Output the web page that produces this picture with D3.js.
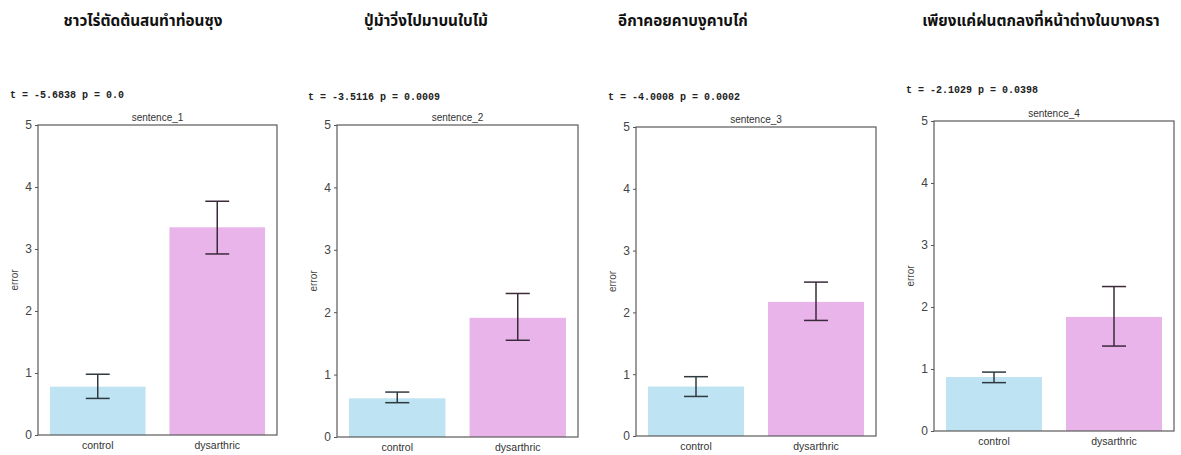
<!DOCTYPE html>
<html>
<head>
<meta charset="utf-8">
<script src="https://cdn.jsdelivr.net/npm/d3@7/dist/d3.min.js"></script>
<style>
  html, body { margin: 0; padding: 0; background: #fff; }
  svg { display: block; }
</style>
</head>
<body>
<svg id="chart" width="1181" height="455"></svg>
<script>
// Mean error per sentence, control vs dysarthric speakers, with 95% CI
const titles = ["ชาวไร่ตัดต้นสนทำท่อนซุง", "ปู่ม้าวิ่งไปมาบนใบไม้", "อีกาคอยคาบงูคาบไก่", "เพียงแค่ฝนตกลงที่หน้าต่างในบางครา"];
const sentences = ["sentence_1", "sentence_2", "sentence_3", "sentence_4"];
const stats = ["t = -5.6838 p = 0.0", "t = -3.5116 p = 0.0009", "t = -4.0008 p = 0.0002", "t = -2.1029 p = 0.0398"];
const groups = ["control", "dysarthric"];
const controlMean = [0.78, 0.62, 0.80, 0.87];
const controlLow  = [0.59, 0.55, 0.64, 0.78];
const controlHigh = [0.98, 0.72, 0.96, 0.95];
const dysMean = [3.35, 1.91, 2.17, 1.84];
const dysLow  = [2.92, 1.55, 1.87, 1.37];
const dysHigh = [3.77, 2.30, 2.49, 2.33];
const yTicks = [0, 1, 2, 3, 4, 5];

// panel frames (plot area boxes)
const frames = [
  { x0: 38,  y0: 125, x1: 277,  y1: 435, tx: 10,  ty: 98, cx: 143 },
  { x0: 337, y0: 125, x1: 578,  y1: 437, tx: 308, ty: 100, cx: 426 },
  { x0: 636, y0: 127, x1: 876,  y1: 436, tx: 608, ty: 100, cx: 683 },
  { x0: 934, y0: 121, x1: 1174, y1: 431, tx: 906, ty: 93, cx: 1041 }
];
const fills = { control: "#bee3f2", dysarthric: "#e9b4e9" };

const svg = d3.select("#chart");
const sans = "'Liberation Sans', Arial, sans-serif";

frames.forEach((f, i) => {
  const w = f.x1 - f.x0, h = f.y1 - f.y0;
  const rows = [
    { g: "control", m: controlMean[i], lo: controlLow[i], hi: controlHigh[i] },
    { g: "dysarthric", m: dysMean[i], lo: dysLow[i], hi: dysHigh[i] }
  ];

  // main Thai sentence heading
  svg.append("text")
    .attr("x", f.cx).attr("y", 26)
    .attr("text-anchor", "middle")
    .attr("font-family", "'Noto Sans Thai', 'Noto Sans', Tahoma, sans-serif")
    .attr("font-weight", "bold")
    .attr("font-size", 15.3)
    .attr("fill", "#111")
    .text(titles[i]);

  // t-test result line
  svg.append("text")
    .attr("x", f.tx).attr("y", f.ty)
    .attr("font-family", "'Liberation Mono', 'Courier New', monospace")
    .attr("font-weight", "bold")
    .attr("font-size", 10)
    .attr("fill", "#222")
    .text(stats[i]);

  const g = svg.append("g").attr("transform", `translate(${f.x0},${f.y0})`);
  const x = d3.scaleBand().domain(groups).range([0, w]).paddingInner(0.2).paddingOuter(0.1);
  const y = d3.scaleLinear().domain([0, 5]).range([h, 0]);
  const cap = x.step() * 0.1;

  // bars
  g.selectAll("rect.bar").data(rows).join("rect")
    .attr("class", "bar")
    .attr("x", d => x(d.g))
    .attr("width", x.bandwidth())
    .attr("y", d => y(d.m))
    .attr("height", d => y(0) - y(d.m))
    .attr("fill", d => fills[d.g]);

  // confidence interval whiskers
  const eb = g.selectAll("g.err").data(rows).join("g").attr("class", "err")
    .attr("stroke", d => d.g === "dysarthric" ? "#3a2a3a" : "#2e3a40")
    .attr("stroke-width", 1.5);
  eb.append("line")
    .attr("x1", d => x(d.g) + x.bandwidth() / 2).attr("x2", d => x(d.g) + x.bandwidth() / 2)
    .attr("y1", d => y(d.lo)).attr("y2", d => y(d.hi));
  eb.append("line")
    .attr("x1", d => x(d.g) + x.bandwidth() / 2 - cap).attr("x2", d => x(d.g) + x.bandwidth() / 2 + cap)
    .attr("y1", d => y(d.lo)).attr("y2", d => y(d.lo));
  eb.append("line")
    .attr("x1", d => x(d.g) + x.bandwidth() / 2 - cap).attr("x2", d => x(d.g) + x.bandwidth() / 2 + cap)
    .attr("y1", d => y(d.hi)).attr("y2", d => y(d.hi));

  // y axis
  const ya = g.append("g")
    .call(d3.axisLeft(y).tickValues(yTicks).tickFormat(d3.format("d")).tickSize(3).tickPadding(3));
  ya.select(".domain").remove();
  ya.selectAll("line").attr("stroke", "#555");
  ya.selectAll("text").attr("font-family", sans).attr("font-size", 12).attr("fill", "#444");

  // x axis labels
  const xa = g.append("g").attr("transform", `translate(0,${h})`)
    .call(d3.axisBottom(x).tickSize(0).tickPadding(7));
  xa.select(".domain").remove();
  xa.selectAll("text").attr("font-family", sans).attr("font-size", 10.5).attr("fill", "#333");

  // frame
  g.append("rect")
    .attr("x", 0).attr("y", 0).attr("width", w).attr("height", h)
    .attr("fill", "none").attr("stroke", "#5a5a5a").attr("stroke-width", 1.2);

  // subplot title
  g.append("text")
    .attr("x", w / 2).attr("y", -4)
    .attr("text-anchor", "middle")
    .attr("font-family", sans).attr("font-size", 10)
    .attr("fill", "#333")
    .text(sentences[i]);

  // y label
  g.append("text")
    .attr("transform", `translate(${-20},${h / 2}) rotate(-90)`)
    .attr("text-anchor", "middle")
    .attr("font-family", sans).attr("font-size", 10)
    .attr("fill", "#444")
    .text("error");
});
</script>
</body>
</html>
